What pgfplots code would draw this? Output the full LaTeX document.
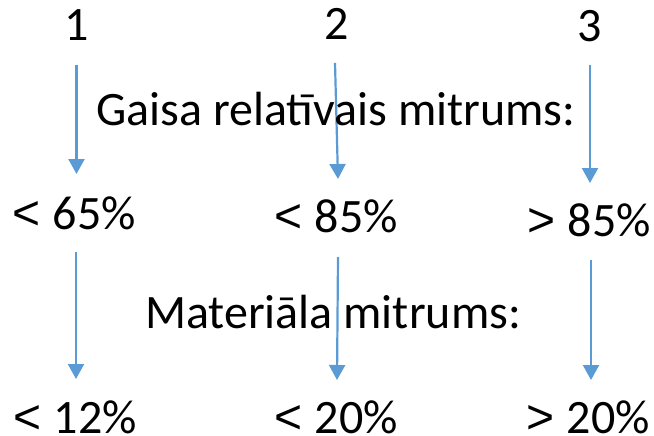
\documentclass[border=0pt]{standalone}
\usepackage{pgfplots}
\pgfplotsset{compat=1.18}
\usepackage{fontspec}
\setmainfont{Carlito}
\newfontfamily\symfont{Liberation Sans}
\usetikzlibrary{arrows.meta}
\definecolor{arrowblue}{HTML}{5B9BD5}
\newcommand\bigsym[1]{{\symfont #1}\hspace{2bp}}
\begin{document}
\begin{tikzpicture}
\begin{axis}[
  at={(0,0)}, anchor=south west,
  scale only axis, width=654bp, height=436bp,
  xmin=0, xmax=654, ymin=0, ymax=436, y dir=reverse,
  hide axis, clip=false,
  myarrow/.style={draw=arrowblue, fill=arrowblue, line width=2.2bp, mark=none, -{Triangle[width=16bp,length=15bp]}},
  nodes={font=\fontsize{48bp}{56bp}\selectfont, inner sep=0pt, anchor=base, text=black},
]
% upper arrows
\addplot[myarrow] coordinates {(76.5,65) (76.5,174)};
\addplot[myarrow] coordinates {(335,63) (338,179)};
\addplot[myarrow] coordinates {(590,65) (590,183)};
% lower arrows
\addplot[myarrow] coordinates {(76,252) (76,379)};
\addplot[myarrow] coordinates {(338,257) (337,380)};
\addplot[myarrow] coordinates {(591,260) (591,380)};
\node at (axis cs:77,41) {1};
\node at (axis cs:337,40) {2};
\node at (axis cs:590,42) {3};
\node at (axis cs:336,126) {Gaisa relatīvais mitrums:};
\node at (axis cs:74,229) {\bigsym{<} 65\%};
\node at (axis cs:336,232) {\bigsym{<} 85\%};
\node at (axis cs:589,236) {\bigsym{>} 85\%};
\node at (axis cs:333,328) {Materiāla mitrums:};
\node at (axis cs:75,433) {\bigsym{<} 12\%};
\node at (axis cs:336,433) {\bigsym{<} 20\%};
\node at (axis cs:588,433) {\bigsym{>} 20\%};
\end{axis}
\pgfresetboundingbox
\path (0,0) rectangle (654bp,436bp);
\end{tikzpicture}
\end{document}
